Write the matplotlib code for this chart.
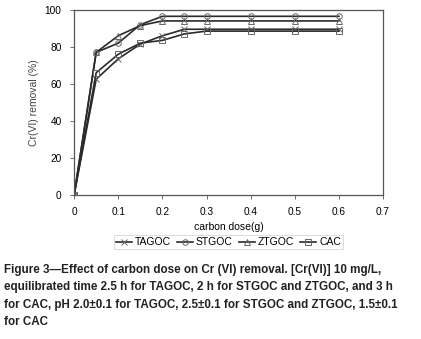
import matplotlib.pyplot as plt

# carbon dose (g)
dose = [0, 0.05, 0.1, 0.15, 0.2, 0.25, 0.3, 0.4, 0.5, 0.6]
# Cr(VI) removal (%)
tagoc = [0, 62.5, 73.5, 81.5, 86, 89.5, 89.5, 89.5, 89.5, 89.5]
stgoc = [0, 77, 82, 92, 96.5, 96.5, 96.5, 96.5, 96.5, 96.5]
ztgoc = [0, 77, 86, 91.5, 94, 94, 94, 94, 94, 94]
cac = [0, 66, 76, 82, 83.5, 87, 88.5, 88.5, 88.5, 88.5]

plt.rcParams['font.family'] = ['Liberation Sans', 'DejaVu Sans']

fig = plt.figure(figsize=(4.21, 3.39), dpi=100)
ax = fig.add_axes([0.176, 0.425, 0.734, 0.546])

line_kw = dict(color='#2a2a2a', lw=1.2, ms=4, mfc='none', mec='#666666', mew=0.7)
ax.plot(dose, tagoc, marker='x', label='TAGOC', **line_kw)
ax.plot(dose, stgoc, marker='o', label='STGOC', **line_kw)
ax.plot(dose, ztgoc, marker='^', label='ZTGOC', **line_kw)
ax.plot(dose, cac, marker='s', label='CAC', **line_kw)

ax.set_xlim(0, 0.7)
ax.set_ylim(0, 100)
ax.set_xticks([0, 0.1, 0.2, 0.3, 0.4, 0.5, 0.6, 0.7])
ax.set_xticklabels(['0', '0.1', '0.2', '0.3', '0.4', '0.5', '0.6', '0.7'])
ax.set_yticks([0, 20, 40, 60, 80, 100])
ax.tick_params(labelsize=7.3, length=3, width=0.6, color='#555555', pad=6)
for s in ax.spines.values():
    s.set_color('#555555')
    s.set_linewidth(0.9)

ax.set_xlabel('carbon dose(g)', fontsize=7.5, labelpad=3)
ax.set_ylabel('Cr(VI) removal (%)', fontsize=7.5, color='#444444', labelpad=4)

leg = ax.legend(loc='upper center', bbox_to_anchor=(0.5, -0.19), ncol=4,
                fontsize=7.5, frameon=True, fancybox=False, handlelength=1.5,
                handletextpad=0.3, columnspacing=0.6, borderpad=0.2)
leg.get_frame().set_edgecolor('#cccccc')
leg.get_frame().set_linewidth(0.6)

caption = ("Figure 3\u2014Effect of carbon dose on Cr (VI) removal. [Cr(VI)] 10 mg/L,\n"
           "equilibrated time 2.5 h for TAGOC, 2 h for STGOC and ZTGOC, and 3 h\n"
           "for CAC, pH 2.0\u00b10.1 for TAGOC, 2.5\u00b10.1 for STGOC and ZTGOC, 1.5\u00b10.1\n"
           "for CAC")
fig.text(0.01, 0.222, caption, fontsize=8.4, fontweight='bold', color='#222222',
         va='top', ha='left', linespacing=1.6)

plt.savefig('out.png', dpi=100)
